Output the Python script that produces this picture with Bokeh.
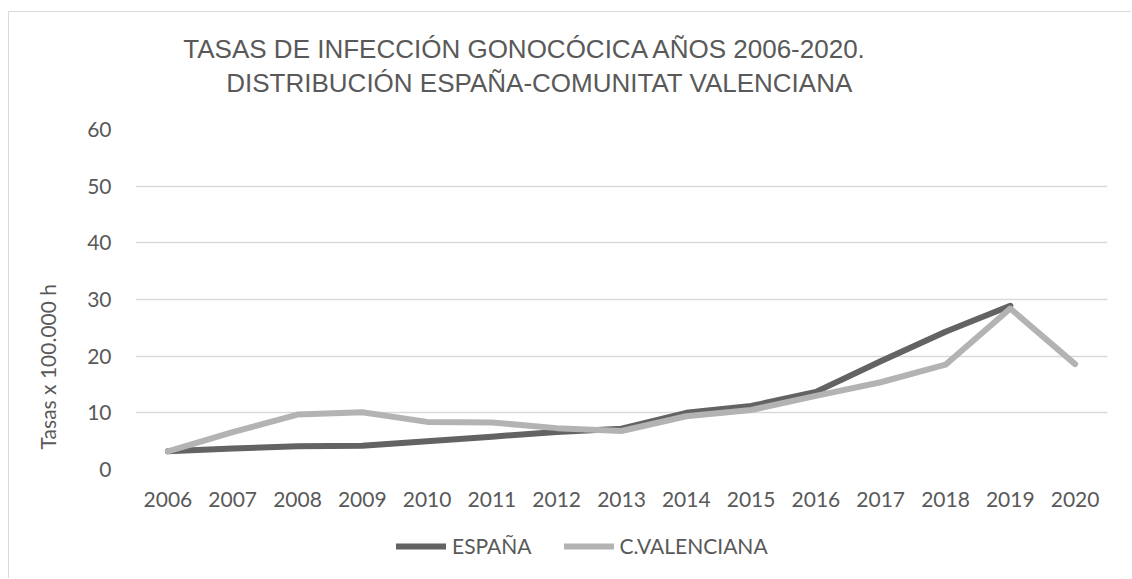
from bokeh.plotting import figure
from bokeh.layouts import column
from bokeh.models import (FactorRange, Range1d, Legend, LegendItem, Label,
                          SingleIntervalTicker, LinearAxis, FixedTicker)
from bokeh.embed import file_html
from bokeh.resources import INLINE

# ---- data -------------------------------------------------------------
years = ["2006", "2007", "2008", "2009", "2010", "2011", "2012", "2013",
         "2014", "2015", "2016", "2017", "2018", "2019", "2020"]
espana = [3.2, 3.7, 4.1, 4.2, 5.0, 5.8, 6.6, 7.2, 10.0, 11.2, 13.7, 19.1,
          24.3, 28.9, float("nan")]
valenciana = [3.2, 6.6, 9.7, 10.1, 8.4, 8.3, 7.3, 6.8, 9.4, 10.5, 13.0,
              15.4, 18.5, 28.4, 18.6]
series_names = ["ESPAÑA", "C.VALENCIANA"]
title_lines = ["TASAS DE INFECCIÓN GONOCÓCICA AÑOS 2006-2020.",
               "DISTRIBUCIÓN ESPAÑA-COMUNITAT VALENCIANA"]
y_title = "Tasas x 100.000 h"

TEXT = "#595959"
GRID = "#d9d9d9"
C_ESP = "#636363"
C_VAL = "#b3b3b3"
BORDER = "1px solid #d9d9d9"
W = 1123

line_style = dict(line_width=6, line_cap="round", line_join="round")

# ---- title strip ------------------------------------------------------
pt = figure(width=W, height=103, x_range=Range1d(0, 1), y_range=Range1d(0, 1),
            x_axis_location=None, y_axis_location=None, min_border=0,
            output_backend="svg", toolbar_location=None)
pt.title = None
pt.grid.visible = False
pt.outline_line_color = None
pt.margin = (11, 0, 0, 8)
pt.styles = {"border-left": BORDER, "border-top": BORDER}
pt.add_layout(Label(x=390, y=67, x_units="screen", y_units="screen",
                    text=title_lines[0], text_align="center", text_baseline="middle",
                    text_font="Liberation Sans", text_font_size="26px",
                    text_color=TEXT))
pt.add_layout(Label(x=404, y=33, x_units="screen", y_units="screen",
                    text=title_lines[1], text_align="center", text_baseline="middle",
                    text_font="Liberation Sans", text_font_size="26px",
                    text_color=TEXT))

# ---- main chart -------------------------------------------------------
p = figure(width=W, height=410,
           x_range=FactorRange(*years, range_padding=0),
           y_range=Range1d(0, 60),
           output_backend="svg", toolbar_location=None,
           min_border_left=126, min_border_right=25,
           min_border_top=15, min_border_bottom=55)
p.title = None
p.margin = (0, 0, 0, 8)
p.styles = {"border-left": BORDER}
p.outline_line_color = None

r1 = p.line(years, espana, line_color=C_ESP, **line_style)
r2 = p.line(years, valenciana, line_color=C_VAL, **line_style)

for ax in (p.xaxis, p.yaxis):
    ax.axis_line_color = None
    ax.major_tick_line_color = None
    ax.minor_tick_line_color = None
    ax.major_label_text_font = "Lato"
    ax.major_label_text_font_size = "21px"
    ax.major_label_text_color = TEXT
p.xaxis.major_label_standoff = 16
p.yaxis.major_label_standoff = 18
p.yaxis.ticker = SingleIntervalTicker(interval=10)
p.xgrid.grid_line_color = None
p.ygrid.ticker = SingleIntervalTicker(interval=10)
p.ygrid.bounds = (0, 60)
p.ygrid.grid_line_color = GRID
p.ygrid.grid_line_width = 1.5

# y axis title on its own axis; trailing no-break spaces push the visible
# words down toward the lower part of the axis, as in the original
lab_axis = LinearAxis(ticker=FixedTicker(ticks=[0]),
                      major_label_text_font_size="1px",
                      major_label_text_color=None, major_label_standoff=0,
                      axis_label=y_title + "\u00a0" * 25, axis_line_color=None,
                      major_tick_line_color=None, minor_tick_line_color=None,
                      axis_label_standoff=19, axis_label_text_font="Lato",
                      axis_label_text_font_size="21px",
                      axis_label_text_font_style="normal",
                      axis_label_text_color=TEXT)
p.add_layout(lab_axis, "left")

# ---- legend strip -----------------------------------------------------
pl = figure(width=W, height=54, x_range=p.x_range, y_range=Range1d(100, 101),
            x_axis_location=None, y_axis_location=None, min_border=0,
            output_backend="svg", toolbar_location=None)
pl.title = None
pl.grid.visible = False
pl.outline_line_color = None
pl.margin = (0, 0, 0, 8)
pl.styles = {"border-left": BORDER}
l1 = pl.line(years, espana, line_color=C_ESP, **line_style)
l2 = pl.line(years, valenciana, line_color=C_VAL, **line_style)
legend = Legend(items=[LegendItem(label=series_names[0], renderers=[l1]),
                       LegendItem(label=series_names[1], renderers=[l2])],
                location=(261, 20), orientation="horizontal",
                glyph_width=50, glyph_height=20, label_standoff=6, spacing=32,
                padding=0, margin=0, border_line_color=None,
                background_fill_alpha=0, label_text_font="Lato",
                label_text_font_size="21px", label_text_color=TEXT)
pl.add_layout(legend)

layout = column(pt, p, pl, spacing=0)
open("out.html", "w").write(file_html(layout, INLINE))
